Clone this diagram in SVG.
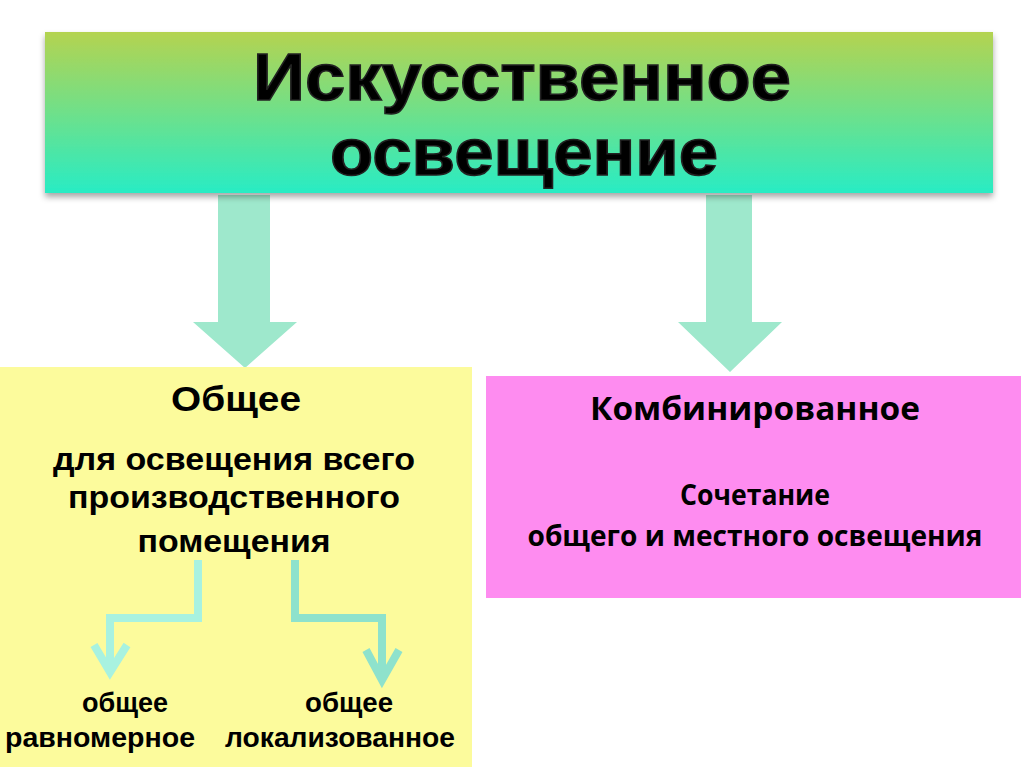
<svg xmlns="http://www.w3.org/2000/svg" width="1024" height="767" viewBox="0 0 1024 767">
<defs>
<linearGradient id="g" x1="0" y1="0" x2="0" y2="1">
<stop offset="0" stop-color="#b4d350"/>
<stop offset="0.5" stop-color="#6fe08a"/>
<stop offset="1" stop-color="#28ecc4"/>
</linearGradient>
<filter id="sh" x="-5%" y="-10%" width="110%" height="130%">
<feDropShadow dx="0" dy="4" stdDeviation="3" flood-color="#000" flood-opacity="0.35"/>
</filter>
</defs>
<style>
.t{font-family:"Liberation Sans",Arial,sans-serif;font-weight:bold;fill:#000;text-anchor:middle}
.c{font-family:"Open Sans","Liberation Sans",sans-serif;font-weight:bold;fill:#000;text-anchor:middle}
.big{fill:#9ee8cc}
.sm{fill:none;stroke-width:8;stroke-linejoin:miter}
</style>
<rect width="1024" height="767" fill="#fff"/>
<g id="connectors">
<polygon class="big" points="218,195 270,195 270,322 297,322 245,368 193,322 218,322"/>
<polygon class="big" points="706,195 752,195 752,322 782,322 730,372 678,322 706,322"/>
</g>
<g id="top">
<rect x="45" y="32" width="948" height="161" fill="url(#g)" filter="url(#sh)"/>
<text class="t" x="522" y="100" font-size="66" stroke="#222" stroke-width="1.5" textLength="538" lengthAdjust="spacingAndGlyphs">Искусственное</text>
<text class="t" x="524" y="175" font-size="66" stroke="#222" stroke-width="1.5" textLength="388" lengthAdjust="spacingAndGlyphs">освещение</text>
</g>
<g id="general">
<rect x="0" y="367" width="472" height="400" fill="#fcfb9c"/>
<text class="t" x="236" y="411" font-size="35" textLength="130" lengthAdjust="spacingAndGlyphs">Общее</text>
<text class="t" x="234" y="470" font-size="32" textLength="362" lengthAdjust="spacingAndGlyphs">для освещения всего</text>
<text class="t" x="234" y="508" font-size="32" textLength="332" lengthAdjust="spacingAndGlyphs">производственного</text>
<text class="t" x="234" y="552" font-size="32" textLength="193" lengthAdjust="spacingAndGlyphs">помещения</text>
</g>
<g id="sub-connectors">
<polyline class="sm" stroke="#a8f2e0" points="198,560 198,618 110,618 110,672"/>
<polyline class="sm" stroke="#a8f2e0" points="94,645 110,672 127,645"/>
<polyline class="sm" stroke="#8ee2cc" points="295,560 295,618 382,618 382,680"/>
<polyline class="sm" stroke="#8ee2cc" points="366,650 382,680 399,650"/>
</g>
<g id="uniform">
<text class="t" x="125" y="712" font-size="28" textLength="86" lengthAdjust="spacingAndGlyphs">общее</text>
<text class="t" x="100" y="747" font-size="28" textLength="190" lengthAdjust="spacingAndGlyphs">равномерное</text>
</g>
<g id="localized">
<text class="t" x="349" y="712" font-size="28" textLength="88" lengthAdjust="spacingAndGlyphs">общее</text>
<text class="t" x="340" y="747" font-size="28" textLength="230" lengthAdjust="spacingAndGlyphs">локализованное</text>
</g>
<g id="combined">
<rect x="486" y="376" width="535" height="222" fill="#fe8cf0"/>
<text class="c" x="755" y="420" font-size="33" textLength="330" lengthAdjust="spacingAndGlyphs">Комбинированное</text>
<text class="c" x="755" y="505" font-size="28" textLength="150" lengthAdjust="spacingAndGlyphs">Сочетание</text>
<text class="c" x="755" y="546" font-size="28" textLength="455" lengthAdjust="spacingAndGlyphs">общего и местного освещения</text>
</g>
</svg>
